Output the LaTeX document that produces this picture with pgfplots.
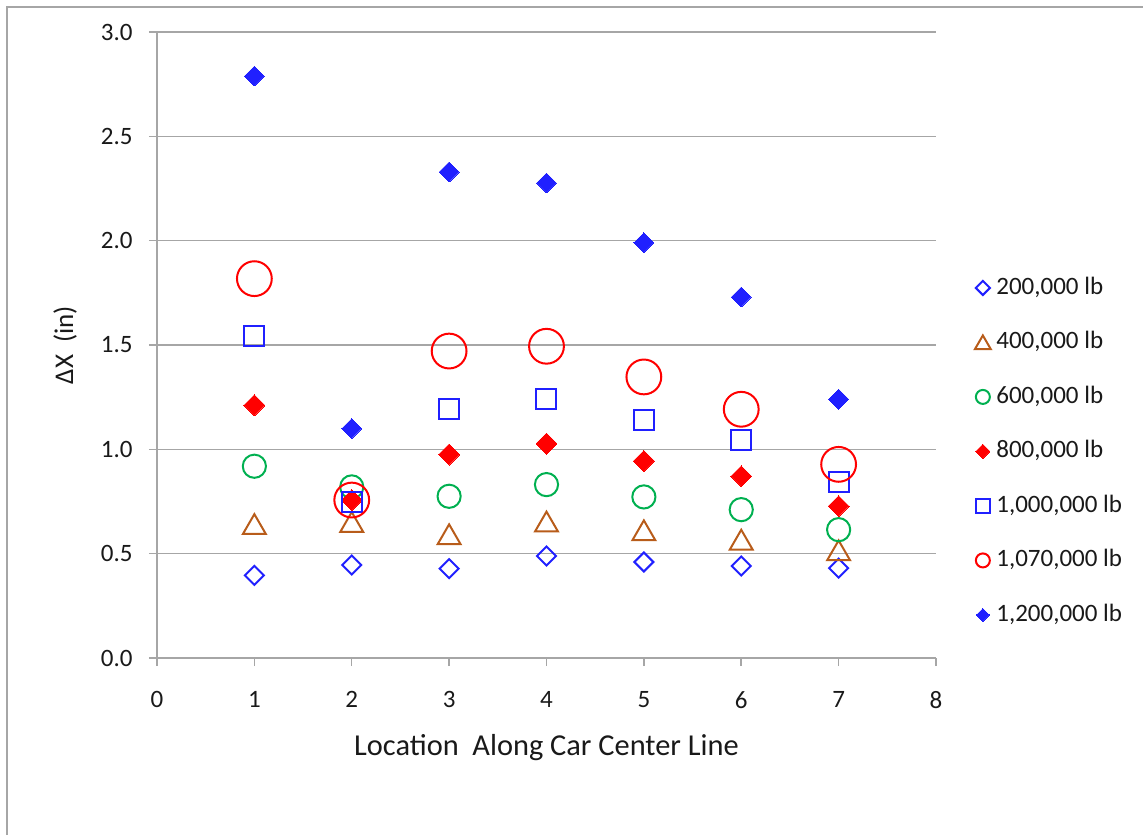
\documentclass[border=0pt]{standalone}
\usepackage{fontspec}
\setmainfont{Carlito}
\usepackage{pgfplots}
\pgfplotsset{compat=1.18}
\definecolor{mblue}{RGB}{32,32,255}
\definecolor{mbrown}{RGB}{184,92,26}
\definecolor{mgreen}{RGB}{0,176,80}
\definecolor{mred}{RGB}{255,0,0}
\definecolor{gridgray}{RGB}{166,166,166}
\definecolor{txt}{RGB}{25,25,25}
\begin{document}
\begin{tikzpicture}[x=1pt,y=1pt]
\path[use as bounding box] (-78.5,-88.5) rectangle (493,329);
\draw[gridgray, line width=0.6pt] (-75,-88.5) -- (-75,325.5) -- (493,325.5);
\begin{axis}[
  at={(0,0)}, anchor=south west,
  scale only axis, width=389.5pt, height=313pt,
  xmin=0, xmax=8, ymin=0, ymax=3,
  xtick={0,1,2,3,4,5,6,7,8},
  ytick={0,0.5,1,1.5,2,2.5,3},
  axis x line=bottom, axis y line=left,
  axis line style={gridgray, line width=0.75pt, -},
  ymajorgrids, grid style={gridgray, line width=0.75pt},
  tick align=outside, major tick length=4pt,
  tick style={gridgray, line width=0.75pt},
  /pgf/number format/assume math mode=true,
  ticklabel style={font=\fontsize{12.5}{15}\selectfont, text=txt},
  yticklabel style={/pgf/number format/fixed, /pgf/number format/fixed zerofill, /pgf/number format/precision=1, anchor=east, inner sep=0pt, xshift=-8pt},
  xticklabel style={anchor=north, inner sep=0pt, yshift=-12.5pt},
  xlabel={Location\ \ Along Car Center Line},
  ylabel={ΔX\ \ (in)},
  xlabel style={font=\fontsize{15.2}{18}\selectfont, text=txt, at={(axis description cs:0.5,-0.1438)}, anchor=center},
  ylabel style={font=\fontsize{13.5}{16}\selectfont, text=txt, at={(axis description cs:-0.118,0.5)}, anchor=center},
  legend image code/.code={\draw[mark repeat=2,mark phase=2,#1] plot coordinates {(0cm,0cm) (0.15cm,0cm) (0.3cm,0cm)};},
  legend style={at={(axis description cs:1,0.330)}, anchor=west, xshift=19.25pt,
    draw=none, fill=none, inner sep=0pt, row sep=15.75pt, column sep=2.75pt,
    font=\fontsize{12.5}{15}\selectfont, text=txt,
    nodes={inner sep=0pt, text height=9pt, text depth=2.5pt}},
  legend cell align=left,
]
% 200,000 lb
\addplot[only marks, forget plot, mark=square, mark size=3.36pt, mark options={mblue, line width=1pt, rotate=45}]
  coordinates {(1,0.396) (2,0.446) (3,0.428) (4,0.489) (5,0.460) (6,0.441) (7,0.431)};
% 400,000 lb
\addplot[only marks, forget plot, mark=triangle, mark size=6.6pt, mark options={mbrown, line width=1pt, yshift=-1.65pt}]
  coordinates {(1,0.642) (2,0.652) (3,0.593) (4,0.654) (5,0.612) (6,0.567) (7,0.516)};
% 600,000 lb
\addplot[only marks, forget plot, mark=o, mark size=5.8pt, mark options={mgreen, line width=1pt}]
  coordinates {(1,0.919) (2,0.820) (3,0.775) (4,0.831) (5,0.772) (6,0.711) (7,0.615)};
% 800,000 lb
\addplot[only marks, forget plot, mark=square*, mark size=3.7pt, mark options={mred, fill=mred, line width=0pt, rotate=45}]
  coordinates {(1,1.211) (2,0.757) (3,0.975) (4,1.027) (5,0.944) (6,0.871) (7,0.728)};
% 1,000,000 lb
\addplot[only marks, forget plot, mark=square, mark size=5pt, mark options={mblue, line width=1pt}]
  coordinates {(1,1.543) (2,0.748) (3,1.195) (4,1.243) (5,1.139) (6,1.043) (7,0.845)};
% 1,070,000 lb
\addplot[only marks, forget plot, mark=o, mark size=8.7pt, mark options={mred, line width=1pt}]
  coordinates {(1,1.818) (2,0.757) (3,1.471) (4,1.494) (5,1.347) (6,1.192) (7,0.928)};
% 1,200,000 lb
\addplot[only marks, forget plot, mark=square*, mark size=3.5pt, mark options={mblue, fill=mblue, line width=0pt, rotate=45}]
  coordinates {(1,2.789) (2,1.100) (3,2.329) (4,2.276) (5,1.991) (6,1.730) (7,1.240)};

\addlegendimage{only marks, mark=square, mark size=2.5pt, mark options={mblue, line width=1pt, rotate=45}}
\addlegendentry{200,000 lb}
\addlegendimage{only marks, mark=triangle, mark size=4.6pt, mark options={mbrown, line width=1pt, yshift=-1.1pt}}
\addlegendentry{400,000 lb}
\addlegendimage{only marks, mark=o, mark size=3.5pt, mark options={mgreen, line width=1pt}}
\addlegendentry{600,000 lb}
\addlegendimage{only marks, mark=square*, mark size=2.5pt, mark options={mred, fill=mred, line width=0pt, rotate=45}}
\addlegendentry{800,000 lb}
\addlegendimage{only marks, mark=square, mark size=3.6pt, mark options={mblue, line width=1pt}}
\addlegendentry{1,000,000 lb}
\addlegendimage{only marks, mark=o, mark size=3.5pt, mark options={mred, line width=1pt}}
\addlegendentry{1,070,000 lb}
\addlegendimage{only marks, mark=square*, mark size=2.3pt, mark options={mblue, fill=mblue, line width=0pt, rotate=45}}
\addlegendentry{1,200,000 lb}
\end{axis}
\end{tikzpicture}
\end{document}
